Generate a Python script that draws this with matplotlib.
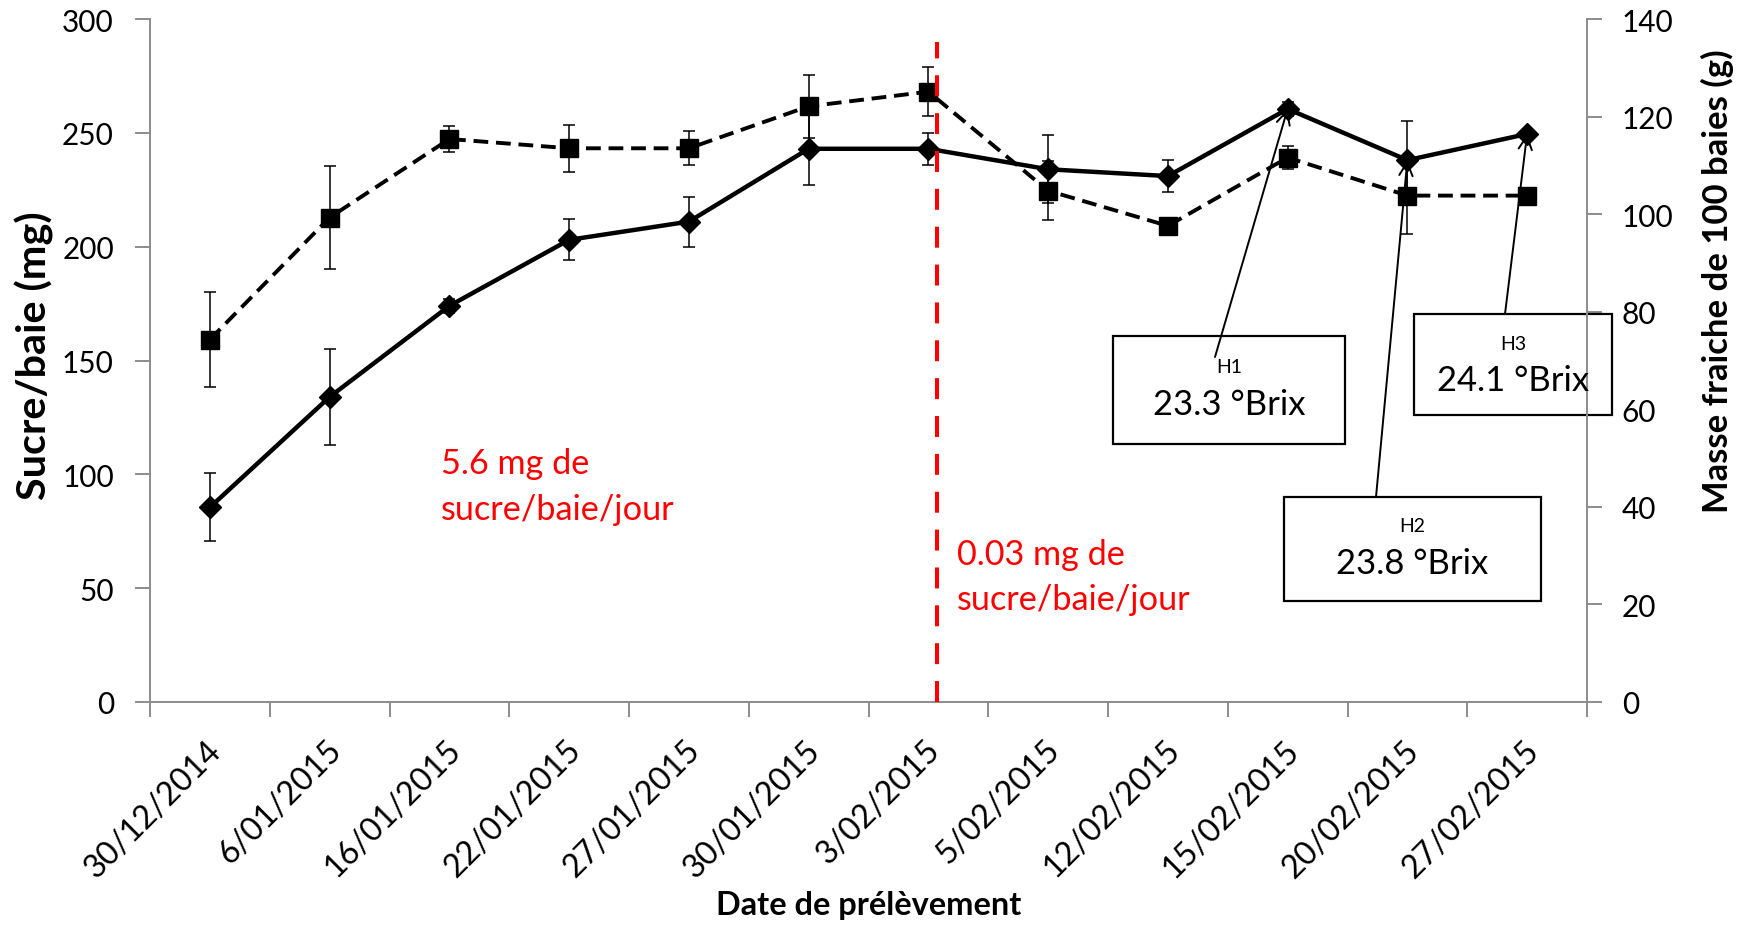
import matplotlib
matplotlib.use('Agg')
import matplotlib.pyplot as plt
from matplotlib import font_manager as fm
from matplotlib.patches import Rectangle
from matplotlib.transforms import ScaledTranslation
import numpy as np

# ---------------- data ----------------
dates = ['30/12/2014', '6/01/2015', '16/01/2015', '22/01/2015', '27/01/2015',
         '30/01/2015', '3/02/2015', '5/02/2015', '12/02/2015', '15/02/2015',
         '20/02/2015', '27/02/2015']
sucre = [85.5, 134, 174, 203, 211, 243, 243, 234, 231, 260.5, 238, 249.5]
sucre_err = [15, 21, 3, 9, 11, 16, 7, 15, 7, 3, 17, 0]
masse = [74.3, 99.3, 115.4, 113.5, 113.5, 122.1, 125.1, 104.8, 97.6, 111.6, 103.8, 103.8]
masse_err = [9.7, 10.6, 2.7, 4.8, 3.5, 6.5, 5.0, 6.0, 0, 2.4, 7.9, 0]
left_ticks = [0, 50, 100, 150, 200, 250, 300]
right_ticks = [0, 20, 40, 60, 80, 100, 120, 140]
brix_names = ['H1', 'H2', 'H3']
brix_values = ['23.3 °Brix', '23.8 °Brix', '24.1 °Brix']
brix_idx = [9, 10, 11]
rate_lines = [['5.6 mg de', 'sucre/baie/jour'], ['0.03 mg de', 'sucre/baie/jour']]
break_x = 6.07
break_top = 290

# ---------------- style ----------------
names = {f.name for f in fm.fontManager.ttflist}
FONT = 'Lato' if 'Lato' in names else 'DejaVu Sans'
plt.rcParams['font.family'] = [FONT, 'DejaVu Sans']

W, H = 1742, 929
fig = plt.figure(figsize=(W / 100, H / 100), dpi=100)
fig.patch.set_facecolor('white')


def fx(px):
    return px / W


def fy(py):
    return 1 - py / H


L, R, T, B = 150, 1587, 20, 703
ax = fig.add_axes([fx(L), fy(B), (R - L) / W, (B - T) / H])
ax2 = ax.twinx()

x = np.arange(len(dates))
GREY = '#8c8c8c'

ax.errorbar(x, sucre, yerr=sucre_err, color='black', lw=3.2, marker='D', ms=11,
            ecolor='black', elinewidth=1.1, capsize=4, capthick=1.1, zorder=3)
ax2.errorbar(x, masse, yerr=masse_err, color='black', lw=2.8, ls=(0, (3.8, 2.0)),
             marker='s', ms=13.5, ecolor='black', elinewidth=1.1, capsize=4,
             capthick=1.1, zorder=3)

ax.set_xlim(-0.5, len(dates) - 0.5)
ax.set_ylim(0, 300)
ax2.set_ylim(0, 140)
ax.set_yticks(left_ticks)
ax2.set_yticks(right_ticks)

# break line
ax2.axvline(break_x, 0, break_top / 300, color='red', lw=2.9,
            ls=(0, (5.2, 4.2)), zorder=5)

# spines
for s in ['top', 'right']:
    ax.spines[s].set_visible(False)
for s in ['top', 'left', 'bottom']:
    ax2.spines[s].set_visible(False)
for s in ['left', 'bottom']:
    ax.spines[s].set_color(GREY)
    ax.spines[s].set_linewidth(1.4)
ax2.spines['right'].set_color(GREY)
ax2.spines['right'].set_linewidth(1.4)

ax.tick_params(axis='y', direction='out', length=11, width=1.4, color=GREY,
               labelsize=21.4, pad=15)
ax2.tick_params(axis='y', direction='out', length=11, width=1.4, color=GREY,
                labelsize=21.4, pad=14)

ax.set_xticks(x)
ax.set_xticklabels(dates, rotation=45, ha='right', va='center',
                   rotation_mode='anchor', fontsize=23.3)
ax.set_xticks(np.arange(-0.5, len(dates), 1), minor=True)
ax.tick_params(axis='x', which='major', length=0, pad=31)
ax.tick_params(axis='x', which='minor', direction='out', length=11, width=1.4,
               color=GREY)
off = ScaledTranslation(7 / 100, 0, fig.dpi_scale_trans)
for lab in ax.get_xticklabels():
    lab.set_transform(lab.get_transform() + off)

# axis labels
ax.set_ylabel('Sucre/baie (mg)', fontsize=26, fontweight='bold')
ax.yaxis.set_label_coords((34 - L) / (R - L), (B - 356) / (B - T))
ax.yaxis.label.set_va('center')
ax2.set_ylabel('Masse fraiche de 100 baies (g)', fontsize=24, fontweight='bold')
ax2.yaxis.set_label_coords((1717 - L) / (R - L), (B - 281) / (B - T))
ax2.yaxis.label.set_va('center')
ax.set_xlabel('Date de prélèvement', fontsize=23, fontweight='bold')
ax.xaxis.set_label_coords(0.5, (B - 915) / (B - T))
ax.xaxis.label.set_va('baseline')

fit_list = [(ax.yaxis.label, 290, 'h'), (ax2.yaxis.label, 464, 'h'),
            (ax.xaxis.label, 305, 'w')]

# red rate texts
rate_pos = [(441, 474, 520), (957, 565, 610)]
for lines, (px, b1, b2) in zip(rate_lines, rate_pos):
    t1 = fig.text(fx(px), fy(b1), lines[0], color='red', fontsize=23, va='baseline', ha='left')
    t2 = fig.text(fx(px), fy(b2), lines[1], color='red', fontsize=23, va='baseline', ha='left')
    fit_list.append((t2, 234, 'w'))

# annotation boxes
boxes = [(1113, 337, 1345, 445), (1284, 498, 1541, 602), (1414, 315, 1612, 416)]
name_base = [373, 532, 350]
val_base = [415, 574, 391]
arrow_start = [(1215, 358), (1376, 498), (1505, 315)]
val_texts = []
for i in range(3):
    x0, y0, x1, y1 = boxes[i]
    rect = Rectangle((fx(x0), fy(y1)), (x1 - x0) / W, (y1 - y0) / H,
                     transform=fig.transFigure, facecolor='white',
                     edgecolor='black', lw=1.6, clip_on=False, zorder=2.2)
    ax2.add_patch(rect)
    cx = (x0 + x1) / 2
    fig.text(fx(cx), fy(name_base[i]), brix_names[i], fontsize=14,
             ha='center', va='baseline')
    vt = fig.text(fx(cx), fy(val_base[i]), brix_values[i], fontsize=23,
                  ha='center', va='baseline')
    val_texts.append(vt)
    sx, sy = arrow_start[i]
    j = brix_idx[i]
    ax2.annotate('', xy=(x[j], sucre[j]), xycoords=ax.transData,
                 xytext=(fx(sx), fy(sy)), textcoords='figure fraction',
                 arrowprops=dict(arrowstyle='->', color='black', lw=1.4,
                                 shrinkA=0, shrinkB=0, mutation_scale=24),
                 zorder=7, annotation_clip=False)
fit_list.append((val_texts[0], 152, 'w'))

# size text to the reference's measured extents
fig.canvas.draw()
rend = fig.canvas.get_renderer()
for t, target, dim in fit_list:
    bb = t.get_window_extent(rend)
    cur = bb.height if dim == 'h' else bb.width
    t.set_fontsize(t.get_fontsize() * target / cur)
# apply same size to paired red/value texts
red_texts = [t for t in fig.texts if t.get_color() == 'red']
red_size = red_texts[1].get_fontsize()
for t in red_texts:
    t.set_fontsize(red_size)
for vt in val_texts:
    vt.set_fontsize(val_texts[0].get_fontsize())

fig.savefig('out.png', dpi=100, facecolor='white')
